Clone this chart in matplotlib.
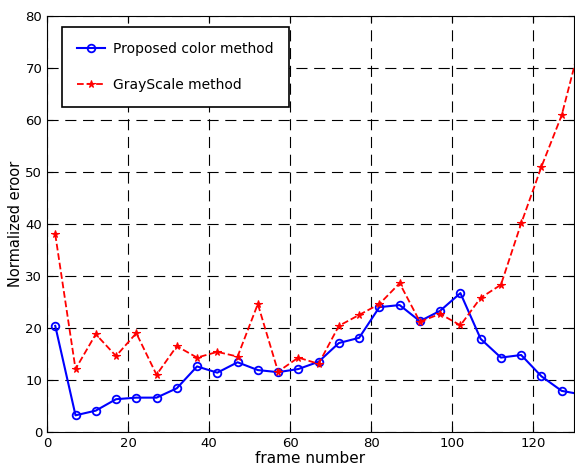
import numpy as np
import matplotlib.pyplot as plt

# frame numbers (last point lies just past the axis limit)
frames = [2, 7, 12, 17, 22, 27, 32, 37, 42, 47, 52, 57, 62, 67, 72, 77,
          82, 87, 92, 97, 102, 107, 112, 117, 122, 127, 132]
proposed = [20.4, 3.2, 4.1, 6.3, 6.6, 6.6, 8.4, 12.6, 11.4, 13.4, 11.9, 11.5,
            12.1, 13.5, 17.1, 18.1, 24.0, 24.4, 21.3, 23.3, 26.7, 17.9, 14.3,
            14.8, 10.7, 7.9, 7.2]
grayscale = [38.0, 12.1, 18.8, 14.6, 19.0, 11.0, 16.5, 14.3, 15.4, 14.5, 24.6,
             11.6, 14.3, 13.1, 20.4, 22.5, 24.6, 28.6, 21.2, 22.7, 20.5, 25.8,
             28.3, 40.1, 51.0, 60.9, 76.0]

fig = plt.figure(figsize=(5.75, 4.68), dpi=100)
ax = fig.add_axes([0.082, 0.077, 0.916, 0.889])

ax.plot(frames, proposed, color='blue', linestyle='-', linewidth=1.5,
        marker='o', markersize=5.5, markerfacecolor='none',
        markeredgewidth=1.3, label='Proposed color method')
ax.plot(frames, grayscale, color='red', linestyle='--', linewidth=1.3,
        marker='*', markersize=5.5, markerfacecolor='red',
        markeredgewidth=0.8, label='GrayScale method')

ax.set_xlim(0, 130)
ax.set_ylim(0, 80)
ax.set_xticks(np.arange(0, 121, 20))
ax.set_yticks(np.arange(0, 81, 10))
ax.tick_params(direction='in', top=True, right=True, labelsize=9.5, length=4)
ax.grid(True, color='black', linestyle=(0, (10, 6)), linewidth=0.8)
ax.set_xlabel('frame number', fontsize=11, labelpad=1)
ax.set_ylabel('Normalized eroor', fontsize=10.5, labelpad=2)

leg = ax.legend(loc='upper left', bbox_to_anchor=(0.028, 0.974),
                fontsize=10, numpoints=1, fancybox=False, framealpha=1,
                edgecolor='black', borderpad=1.1, labelspacing=1.55,
                handlelength=2.0, handletextpad=0.6, borderaxespad=0)
leg.get_frame().set_linewidth(1.2)

fig.savefig('out.png', dpi=100)
